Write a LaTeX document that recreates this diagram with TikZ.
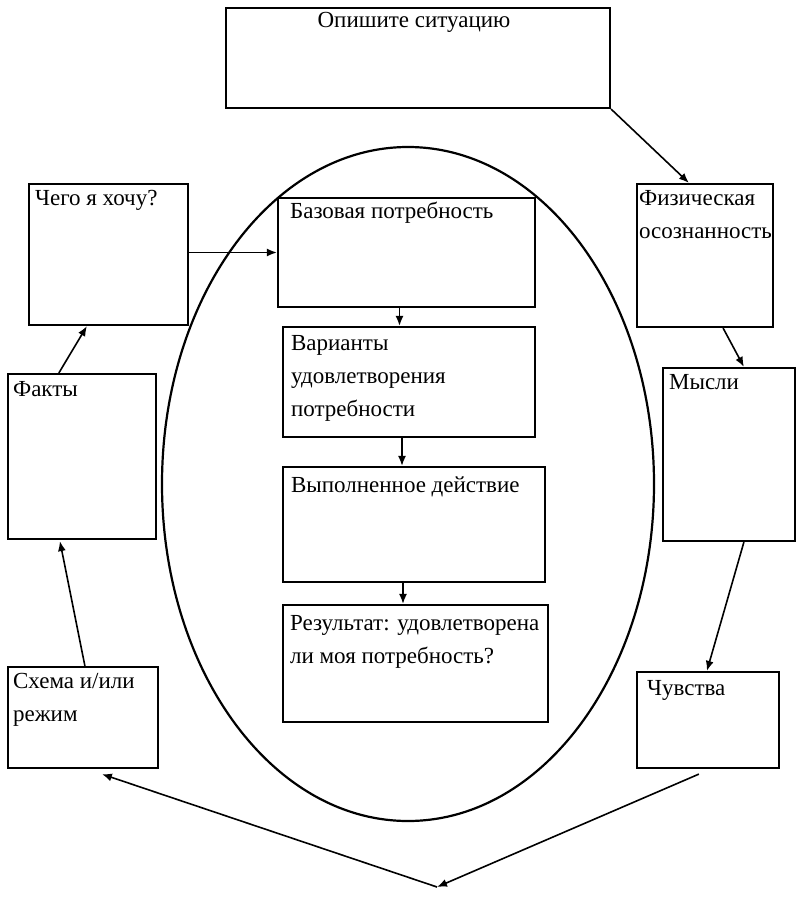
\documentclass[tikz,border=0pt]{standalone}
\usepackage{fontspec}
\setmainfont{Liberation Serif}
\usetikzlibrary{arrows.meta,shapes.geometric}
\begin{document}
\begin{tikzpicture}[x=1pt,y=-1pt,
  bx/.style={draw, line width=2.2pt, fill=white, inner sep=0pt, rectangle},
  txt/.style={anchor=base west, inner sep=0pt, align=flush left, text width=300pt, font=\fontsize{23}{33}\selectfont},
  txtc/.style={anchor=base, inner sep=0pt, font=\fontsize{23}{33}\selectfont},
  arr/.style={line width=1.6pt, -{Latex[length=10pt,width=8pt]}},
  ovalshape/.style={draw, line width=2.2pt, ellipse, inner sep=0pt}
]
\useasboundingbox (0,0) rectangle (801,900);
\fill[white] (0,0) rectangle (801,900);

\node[ovalshape, minimum width=492pt, minimum height=674pt] (ell) at (408,484) {};

\node[bx, minimum width=384pt, minimum height=100pt] (top) at (418,58) {};
\node[bx, minimum width=136pt, minimum height=143pt] (fiz) at (705,255.5) {};
\node[bx, minimum width=132pt, minimum height=173pt] (mysli) at (729,454.5) {};
\node[bx, minimum width=142pt, minimum height=96pt] (chuv) at (708,720) {};
\node[bx, minimum width=150pt, minimum height=101pt] (shema) at (83,717.5) {};
\node[bx, minimum width=148pt, minimum height=165pt] (fakty) at (82,456.5) {};
\node[bx, minimum width=159pt, minimum height=141pt] (chego) at (108.5,254.5) {};
\node[bx, minimum width=257pt, minimum height=109pt] (baz) at (406.5,252.5) {};
\node[bx, minimum width=252pt, minimum height=110pt] (var) at (409,382) {};
\node[bx, minimum width=262pt, minimum height=115pt] (vyp) at (414,524.5) {};
\node[bx, minimum width=265pt, minimum height=117pt] (rez) at (415.5,663.5) {};

\node[txtc] (ttop) at ([xshift=-4pt,yshift=-21pt]top.north) {Опишите ситуацию};
\node[txt] (tfiz) at ([xshift=3pt,yshift=-23pt]fiz.north west) {Физическая\\осознанность};
\node[txt] (tmysli) at ([xshift=7pt,yshift=-23pt]mysli.north west) {Мысли};
\node[txt] (tchuv) at ([xshift=11pt,yshift=-25pt]chuv.north west) {Чувства};
\node[txt] (tshema) at ([xshift=6pt,yshift=-23pt]shema.north west) {Схема и/или\\режим};
\node[txt] (tfakty) at ([xshift=6pt,yshift=-24pt]fakty.north west) {Факты};
\node[txt] (tchego) at ([xshift=7pt,yshift=-23pt]chego.north west) {Чего я хочу?};
\node[txt] (tbaz) at ([xshift=13pt,yshift=-22pt]baz.north west) {Базовая потребность};
\node[txt] (tvar) at ([xshift=9pt,yshift=-25pt]var.north west) {Варианты\\удовлетворения\\потребности};
\node[txt] (tvyp) at ([xshift=9pt,yshift=-27pt]vyp.north west) {Выполненное действие};
\node[txt] (trez) at ([xshift=8pt,yshift=-27pt]rez.north west) {Результат: удовлетворена\\ли моя потребность?};

\coordinate (vpt) at (437,887);

\draw[arr] (top.south east) -- ([xshift=53pt]fiz.north west);
\draw[arr] ([xshift=-51pt]fiz.south east) -- ([xshift=82pt]mysli.north west);
\draw[arr] ([xshift=82pt]mysli.south west) -- ([xshift=71pt]chuv.north west);
\draw[arr] ([xshift=63pt,yshift=-5pt]chuv.south west) -- (vpt);
\draw[arr] (vpt) -- ([xshift=95pt,yshift=-5pt]shema.south west);
\draw[arr] ([xshift=78pt]shema.north west) -- ([xshift=53pt,yshift=-1pt]fakty.south west);
\draw[arr] ([xshift=52pt]fakty.north west) -- ([xshift=59pt]chego.south west);
\draw[arr] (chego.east |- baz.west) -- (baz.west);
\draw[arr] ([xshift=-7pt]baz.south) -- ([xshift=-7pt]baz.south |- var.north);
\draw[arr] ([xshift=-7pt]var.south) -- ([xshift=-7pt]var.south |- vyp.north);
\draw[arr] ([xshift=-11pt]vyp.south) -- ([xshift=-11pt]vyp.south |- rez.north);
\end{tikzpicture}
\end{document}
